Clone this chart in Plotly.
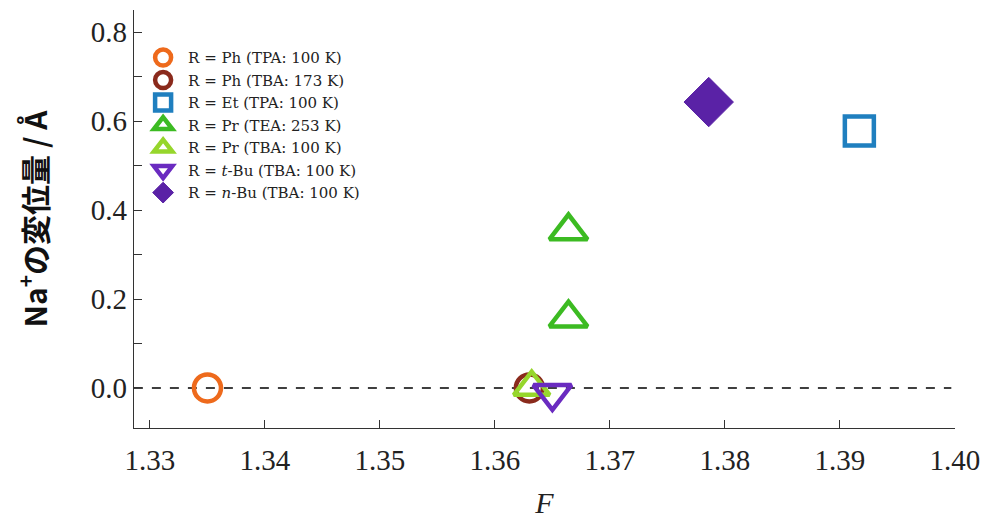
import plotly.graph_objects as go

# Na+ displacement vs. F for each compound
labels = [
    "R = Ph (TPA: 100 K)",
    "R = Ph (TBA: 173 K)",
    "R = Et (TPA: 100 K)",
    "R = Pr (TEA: 253 K)",
    "R = Pr (TBA: 100 K)",
    "R = <i>t</i>-Bu (TBA: 100 K)",
    "R = <i>n</i>-Bu (TBA: 100 K)",
]
f_values = [
    [1.3350],
    [1.3630],
    [1.3917],
    [1.3664, 1.3664],
    [1.3632],
    [1.3650],
    [1.3786],
]
displacement = [
    [0.0],
    [0.0],
    [0.578],
    [0.353, 0.157],
    [0.002],
    [-0.012],
    [0.643],
]
symbols = ["circle-open", "circle-open", "square-open", "triangle-up-open",
           "triangle-up-open", "triangle-down-open", "diamond"]
colors = ["#ee6a1c", "#8a2a1c", "#1f7fbf", "#3cbb22", "#96d62c", "#6a2bc0", "#5a22a6"]
sizes = [27, 27, 29, 33, 31, 33, 38]

x_ticks = [1.33, 1.34, 1.35, 1.36, 1.37, 1.38, 1.39, 1.40]
y_ticks = [0.0, 0.2, 0.4, 0.6, 0.8]

serif = "Times New Roman, Liberation Serif, serif"

fig = go.Figure()

# zero reference line
fig.add_shape(type="line", xref="x", yref="y", x0=1.3286, x1=1.3997, y0=0, y1=0,
              line=dict(color="black", width=1.3, dash="dash"), layer="below")

for i in range(len(labels)):
    filled = symbols[i] == "diamond"
    fig.add_trace(go.Scatter(
        x=f_values[i], y=displacement[i], mode="markers", name=labels[i],
        marker=dict(symbol=symbols[i], size=sizes[i], color=colors[i],
                    line=dict(width=4.5 if not filled else 1, color=colors[i])),
    ))

fig.update_layout(
    width=989, height=519,
    margin=dict(l=134, r=34, t=10, b=91, autoexpand=False),
    paper_bgcolor="white", plot_bgcolor="white",
    showlegend=True,
    legend=dict(x=0.005, y=0.925, xanchor="left", yanchor="top",
                font=dict(family="DejaVu Serif", size=15, color="#222"),
                bgcolor="rgba(0,0,0,0)", itemsizing="trace",
                tracegroupgap=0, itemwidth=40),
    font=dict(family=serif, color="#222"),
)

fig.update_xaxes(
    range=[1.32861, 1.40002], tickvals=x_ticks,
    ticktext=[f"{v:.2f}" for v in x_ticks],
    ticks="inside", ticklen=8, tickwidth=1.2, tickcolor="#333",
    showline=True, linecolor="#333", linewidth=1.2, mirror=False,
    showgrid=False, zeroline=False, ticklabelstandoff=6, automargin=False,
    tickfont=dict(family=serif, size=29, color="#222"),
    title=dict(text="<i>F</i>", font=dict(family=serif, size=30, color="#222"),
               standoff=22),
)
fig.update_yaxes(
    range=[-0.09, 0.85], tickvals=y_ticks,
    ticktext=[f"{v:.1f}" for v in y_ticks],
    ticks="inside", ticklen=8, tickwidth=1.2, tickcolor="#333",
    minor=dict(dtick=0.1, ticks="inside", ticklen=8, tickcolor="#333", showgrid=False),
    showline=True, linecolor="#333", linewidth=1.2,
    showgrid=False, zeroline=False, automargin=False,
    tickfont=dict(family=serif, size=29, color="#222"),
    title=dict(text="Na<sup>+</sup>の変位量 / Å",
               font=dict(family="Noto Sans CJK JP", size=30, color="#111", weight="bold"),
               standoff=34),
)

fig.write_html("out.html")
